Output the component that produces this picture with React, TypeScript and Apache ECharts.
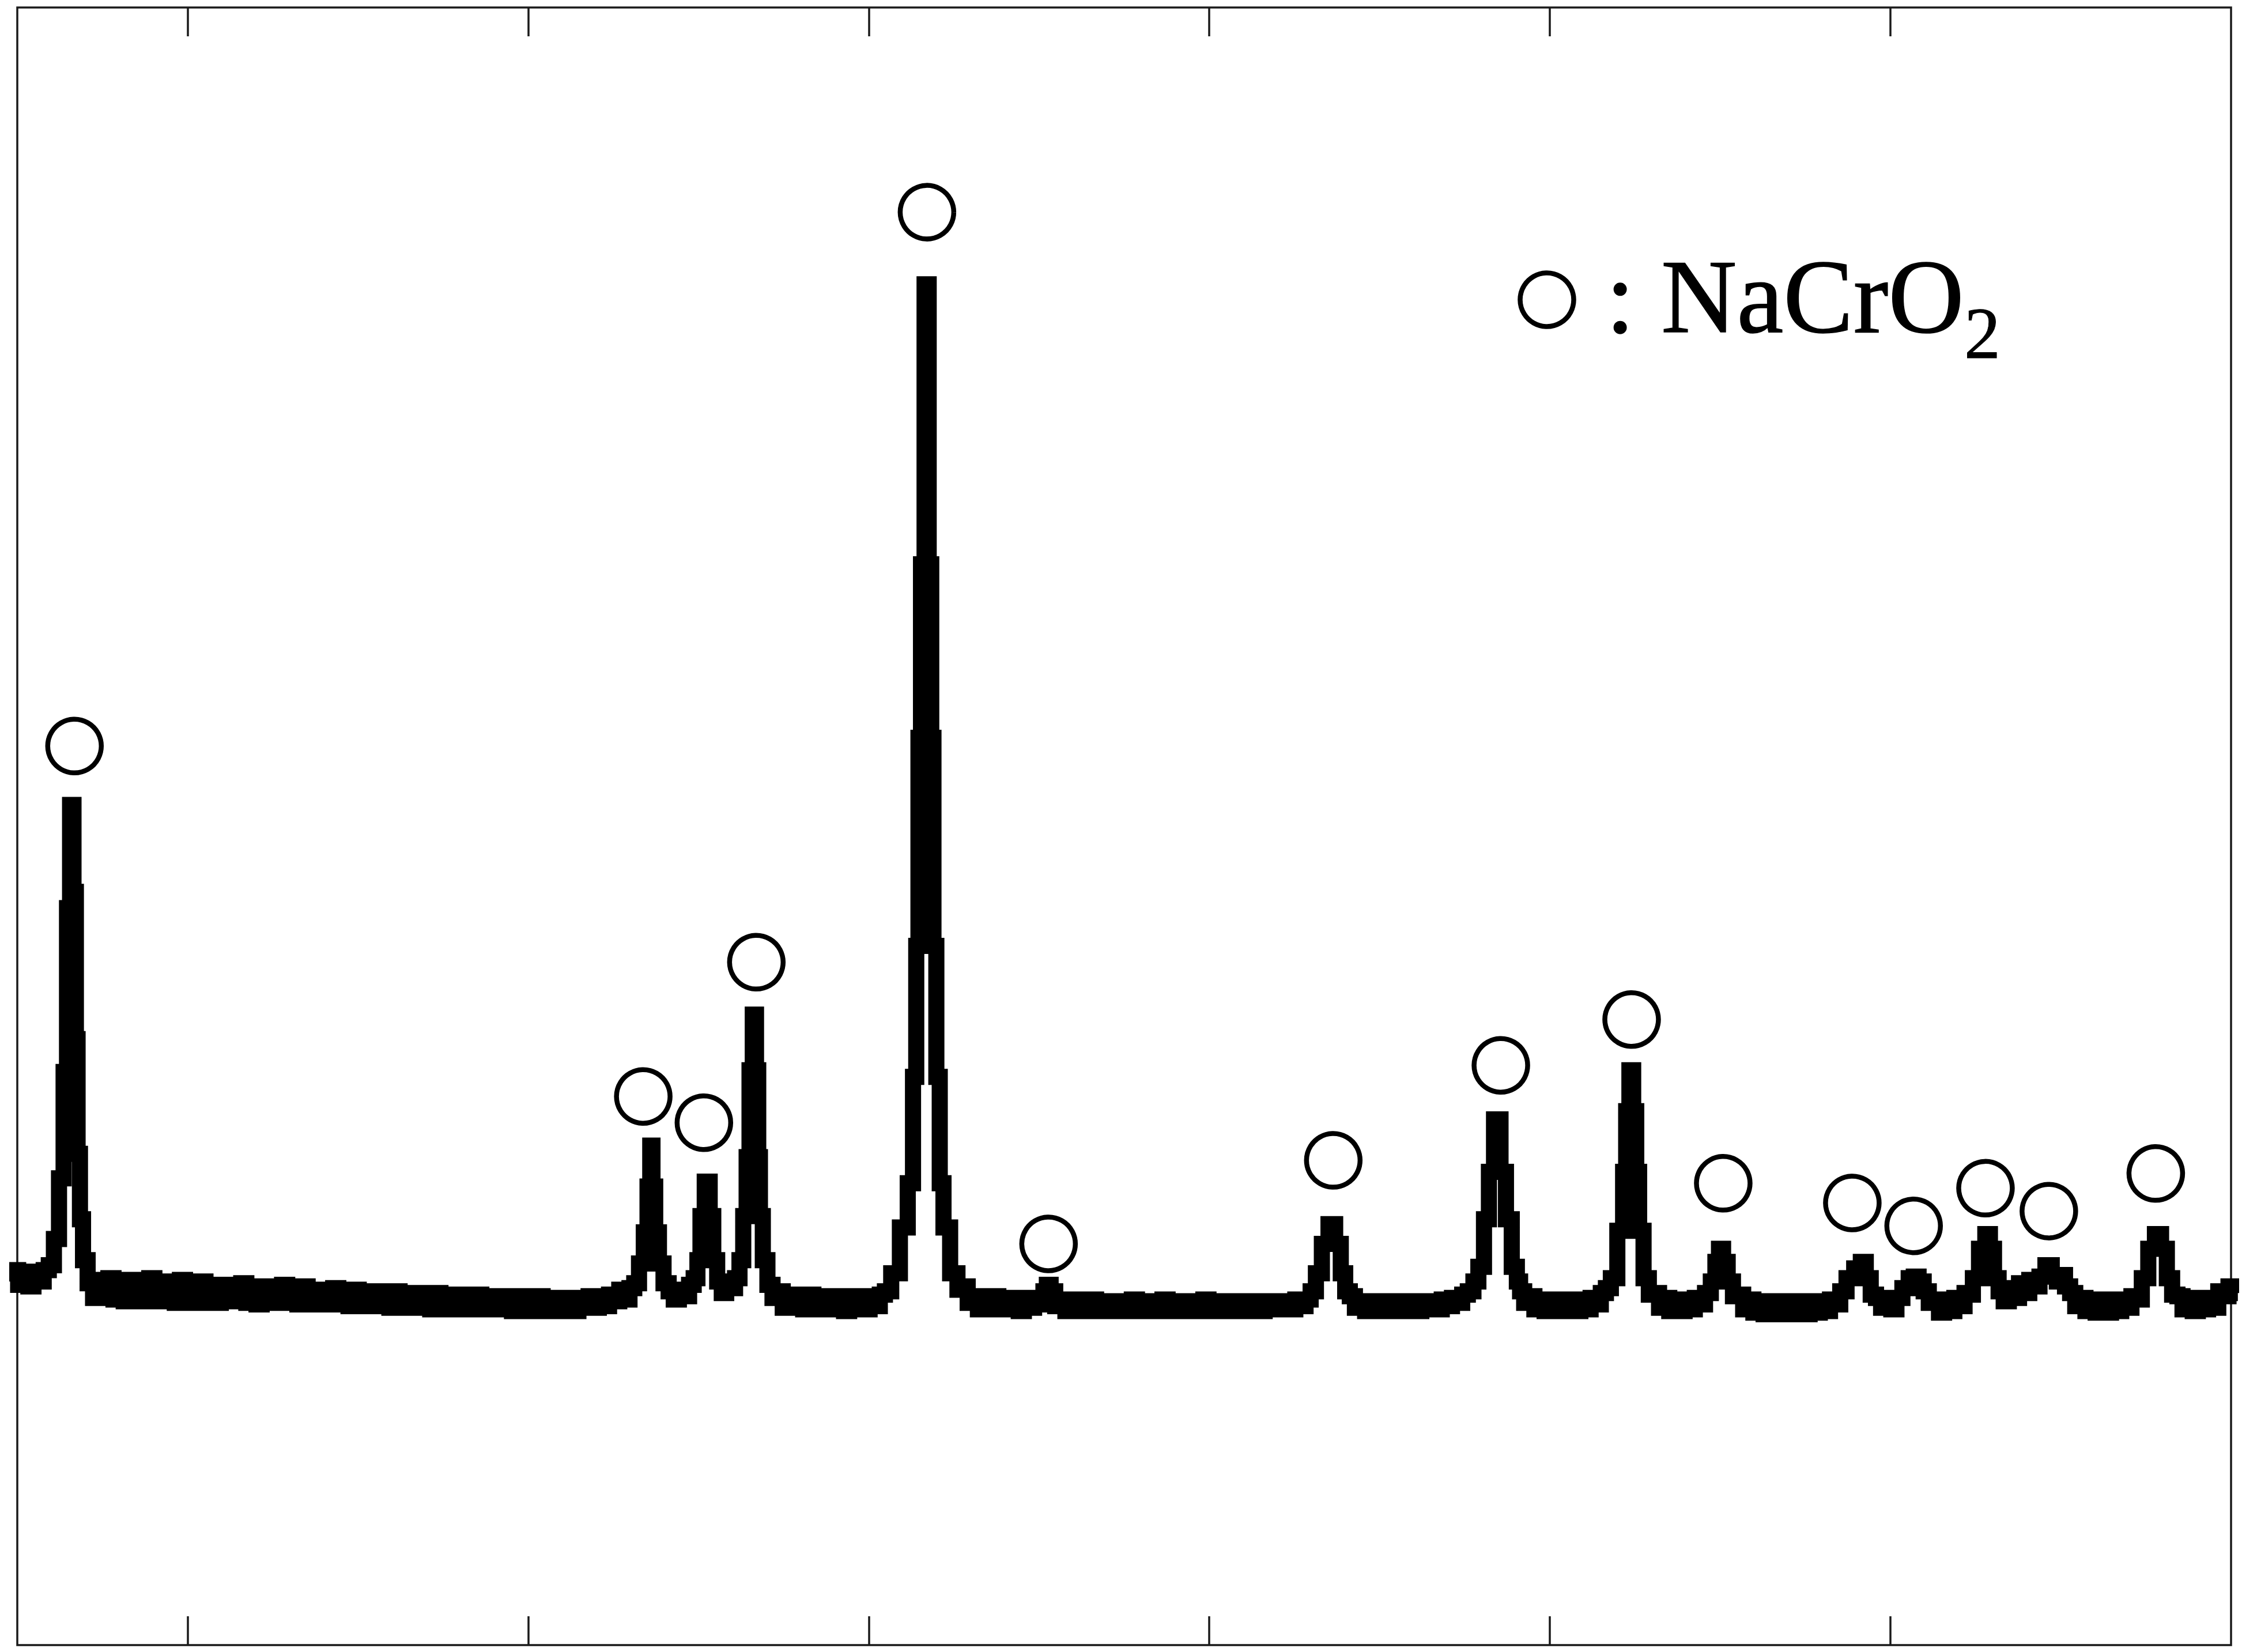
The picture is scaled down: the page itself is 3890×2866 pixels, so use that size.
import { useEffect, useRef } from "react";
import * as echarts from "echarts";

// XRD pattern: [2θ (deg), relative intensity (% of plot height)]
const pattern: [number, number][] = [
  [14.8, 22.2], [14.95, 22.9], [15.1, 22.0], [15.25, 22.8], [15.4, 21.9], [15.55, 22.7], [15.7, 22.2],
  [15.85, 22.9], [16.0, 23.2], [16.15, 24.8], [16.3, 28.5], [16.42, 35.0], [16.5, 45.0], [16.6, 51.3],
  [16.7, 46.0], [16.74, 37.0], [16.8, 30.0], [16.88, 26.0], [16.98, 23.5], [17.15, 22.1],
  [17.3, 21.2], [17.45, 22.3], [17.6, 21.2], [17.75, 22.4], [17.9, 21.1], [18.05, 22.2], [18.2, 21.0],
  [18.35, 22.3], [18.5, 21.2], [18.65, 22.1], [18.8, 21.0], [18.95, 22.4], [19.1, 21.1], [19.25, 22.2],
  [19.4, 21.0], [19.55, 22.0], [19.7, 20.9], [19.85, 22.3], [20.0, 21.1], [20.15, 22.1], [20.3, 20.9],
  [20.45, 22.2], [20.6, 21.0], [20.75, 21.9], [20.9, 20.9], [21.05, 22.0], [21.2, 21.0], [21.35, 21.9],
  [21.5, 21.1], [21.65, 22.1], [21.8, 20.9], [21.95, 21.8], [22.1, 20.8], [22.25, 21.9], [22.4, 21.0],
  [22.55, 21.8], [22.7, 20.9], [22.85, 22.0], [23.0, 20.9], [23.15, 21.7], [23.3, 20.8], [23.45, 21.9],
  [23.6, 20.9], [23.75, 21.6], [23.9, 20.8], [24.05, 21.7], [24.2, 20.9], [24.35, 21.8], [24.5, 20.8],
  [24.65, 21.6], [24.8, 20.7], [24.95, 21.7], [25.1, 20.8], [25.25, 21.5], [25.4, 20.7], [25.55, 21.6],
  [25.7, 20.8], [25.85, 21.5], [26.0, 20.6], [26.15, 21.6], [26.3, 20.7], [26.45, 21.4], [26.6, 20.6],
  [26.75, 21.5], [26.9, 20.7], [27.05, 21.4], [27.2, 20.5], [27.35, 21.5], [27.5, 20.6], [27.65, 21.3],
  [27.8, 20.5], [27.95, 21.4], [28.1, 20.6], [28.25, 21.3], [28.4, 20.5], [28.55, 21.4], [28.7, 20.6],
  [28.85, 21.2], [29.0, 20.5], [29.15, 21.3], [29.3, 20.6], [29.45, 21.2], [29.6, 20.4], [29.75, 21.3],
  [29.9, 20.5], [30.05, 21.2], [30.2, 20.4], [30.35, 21.3], [30.5, 20.5], [30.65, 21.1], [30.8, 20.4],
  [30.95, 21.2], [31.1, 20.5], [31.25, 21.1], [31.4, 20.4], [31.55, 21.2], [31.7, 20.6], [31.85, 21.3],
  [32.0, 20.6], [32.15, 21.2], [32.3, 20.7], [32.45, 21.4], [32.6, 21.0], [32.75, 21.7], [32.9, 21.1],
  [33.05, 21.8], [33.18, 22.1],
  [33.33, 23.3], [33.46, 25.2], [33.55, 28.0], [33.62, 30.5], [33.68, 28.0], [33.78, 25.2], [33.9, 23.3],
  [34.05, 22.1], [34.2, 21.6], [34.35, 21.1], [34.5, 21.7], [34.65, 21.3], [34.8, 22.0], [34.92, 22.4],
  [35.02, 23.5], [35.1, 26.2], [35.27, 28.3], [35.39, 26.2], [35.48, 23.5], [35.62, 22.2], [35.75, 21.5],
  [35.88, 22.1], [36.0, 21.8], [36.15, 22.4], [36.26, 23.5], [36.37, 26.2], [36.46, 29.8], [36.54, 35.1],
  [36.65, 38.5], [36.73, 35.1], [36.78, 29.8], [36.83, 26.2], [36.95, 23.5], [37.1, 22.0],
  [37.25, 21.2], [37.4, 21.6], [37.55, 20.6], [37.7, 21.4], [37.85, 20.6], [38.0, 21.3], [38.15, 20.5],
  [38.3, 21.4], [38.45, 20.6], [38.6, 21.2], [38.75, 20.5], [38.9, 21.3], [39.05, 20.5], [39.2, 21.2],
  [39.35, 20.4], [39.5, 21.3], [39.65, 20.6], [39.8, 21.2], [39.95, 20.5], [40.1, 21.3], [40.25, 20.7],
  [40.4, 21.4], [40.55, 21.6], [40.77, 22.7],
  [41.06, 25.5], [41.23, 28.2], [41.37, 34.7], [41.42, 42.7], [41.5, 55.4], [41.57, 66.0], [41.71, 83.1],
  [41.81, 66.0], [41.86, 55.4], [41.94, 42.7], [42.03, 34.7], [42.14, 28.2], [42.25, 25.5], [42.53, 22.7],
  [42.68, 21.7], [42.83, 21.9], [42.98, 20.9], [43.13, 21.3], [43.28, 20.5], [43.43, 21.2], [43.58, 20.5],
  [43.73, 21.3], [43.88, 20.6], [44.03, 21.1], [44.18, 20.5], [44.33, 21.2], [44.48, 20.4], [44.63, 21.2],
  [44.78, 20.6], [44.93, 21.1], [45.08, 20.8], [45.18, 21.6], [45.28, 22.0], [45.4, 21.6], [45.55, 20.7],
  [45.7, 21.1], [45.85, 20.4], [46.0, 21.1], [46.15, 20.4], [46.3, 21.0], [46.45, 20.5], [46.6, 21.1],
  [46.75, 20.4], [46.9, 21.0], [47.05, 20.5], [47.2, 20.9], [47.35, 20.4], [47.5, 21.0], [47.65, 20.5],
  [47.8, 21.1], [47.95, 20.4], [48.1, 20.9], [48.25, 20.5], [48.4, 21.0], [48.55, 20.4], [48.7, 21.1],
  [48.85, 20.5], [49.0, 20.9], [49.15, 20.4], [49.3, 21.0], [49.45, 20.5], [49.6, 20.9], [49.75, 20.4],
  [49.9, 21.1], [50.05, 20.5], [50.2, 20.9], [50.35, 20.4], [50.5, 21.0], [50.65, 20.5], [50.8, 21.0],
  [50.95, 20.4], [51.1, 20.9], [51.25, 20.5], [51.4, 21.0], [51.55, 20.4], [51.7, 20.9], [51.85, 20.5],
  [52.0, 21.0], [52.15, 20.5], [52.3, 20.9], [52.45, 20.5], [52.6, 21.1], [52.75, 20.7], [52.9, 21.1],
  [53.05, 21.6], [53.21, 22.7], [53.4, 24.5], [53.6, 25.7], [53.79, 24.5], [53.93, 22.7], [54.05, 21.6],
  [54.2, 21.3], [54.35, 20.6], [54.5, 21.0], [54.65, 20.4], [54.8, 21.0], [54.95, 20.4], [55.1, 20.9],
  [55.25, 20.4], [55.4, 21.0], [55.55, 20.4], [55.7, 20.9], [55.85, 20.4], [56.0, 21.0], [56.15, 20.4],
  [56.3, 20.9], [56.45, 20.5], [56.6, 21.0], [56.75, 20.5], [56.9, 21.1], [57.05, 20.7], [57.2, 21.2],
  [57.35, 20.9], [57.5, 21.4],
  [57.68, 21.6], [57.83, 22.2], [57.97, 23.1], [58.16, 26.0], [58.26, 28.9], [58.46, 32.1], [58.64, 28.9],
  [58.78, 26.0], [58.98, 23.1], [59.08, 22.2], [59.17, 21.6],
  [59.32, 20.9], [59.47, 21.3], [59.62, 20.5], [59.77, 21.1], [59.92, 20.4], [60.07, 21.0], [60.22, 20.4],
  [60.37, 21.1], [60.52, 20.4], [60.67, 21.0], [60.82, 20.4], [60.97, 21.1], [61.12, 20.5], [61.27, 21.2],
  [61.42, 20.8], [61.57, 21.5],
  [61.72, 21.8], [61.86, 22.4], [62.1, 25.3], [62.2, 28.9], [62.28, 32.6], [62.39, 35.1], [62.5, 32.6],
  [62.57, 28.9], [62.67, 25.3], [62.83, 22.4],
  [62.98, 21.4], [63.13, 21.5], [63.28, 20.6], [63.43, 21.2], [63.58, 20.4], [63.73, 21.1], [63.88, 20.4],
  [64.03, 21.1], [64.18, 20.5], [64.33, 21.2], [64.48, 20.8], [64.63, 21.5],
  [64.82, 22.2], [64.9, 23.4], [65.03, 24.2], [65.14, 23.4], [65.3, 22.2],
  [65.45, 21.3], [65.6, 21.4], [65.75, 20.5], [65.9, 21.1], [66.05, 20.3], [66.2, 21.0], [66.35, 20.2],
  [66.5, 20.9], [66.65, 20.3], [66.8, 21.0], [66.95, 20.2], [67.1, 20.9], [67.25, 20.3], [67.4, 21.0],
  [67.55, 20.2], [67.7, 20.9], [67.85, 20.3], [68.0, 21.0], [68.15, 20.4], [68.3, 21.1], [68.45, 20.8],
  [68.6, 21.6],
  [68.82, 22.4], [69.05, 23.0], [69.21, 23.4], [69.34, 22.4], [69.5, 21.4], [69.65, 21.2], [69.8, 20.6],
  [69.95, 21.2], [70.1, 20.5], [70.25, 21.2], [70.45, 21.8], [70.62, 22.4], [70.75, 22.5], [70.9, 22.2],
  [71.05, 21.6], [71.2, 20.9], [71.35, 20.9], [71.5, 20.3], [71.65, 21.1], [71.8, 20.4], [71.95, 21.2],
  [72.1, 20.7], [72.25, 21.5], [72.35, 21.4],
  [72.49, 22.4], [72.71, 24.2], [72.86, 25.1], [72.98, 24.2], [73.1, 22.4], [73.25, 21.6], [73.4, 21.0],
  [73.55, 21.8], [73.7, 21.2], [73.85, 22.1], [74.0, 21.5], [74.15, 22.3], [74.3, 21.9], [74.45, 22.5],
  [74.65, 23.2], [74.82, 22.6], [74.95, 22.2], [75.05, 22.6], [75.2, 21.9], [75.35, 21.5], [75.5, 20.7],
  [75.65, 21.2], [75.8, 20.4], [75.95, 21.1], [76.1, 20.3], [76.25, 21.0], [76.4, 20.3], [76.55, 21.1],
  [76.7, 20.4], [76.85, 21.1], [77.0, 20.6], [77.15, 21.3], [77.3, 21.1],
  [77.46, 22.4], [77.68, 24.2], [77.85, 25.1], [78.04, 24.2], [78.19, 22.4], [78.35, 21.4], [78.5, 21.3],
  [78.65, 20.5], [78.8, 21.2], [78.95, 20.4], [79.1, 21.2], [79.25, 20.5], [79.4, 21.1], [79.55, 20.6],
  [79.7, 21.6], [79.85, 21.3], [80.0, 21.9], [80.2, 21.5],
];

// NaCrO2 reflection markers (2θ, marker height)
const markerTwoTheta = [16.68, 33.38, 35.16, 36.7, 41.71, 45.28, 53.64, 58.56, 62.4, 65.09, 68.88, 70.68, 72.79, 74.65, 77.79];
const markerHeight = [54.9, 33.5, 31.9, 41.7, 87.5, 24.5, 29.6, 35.4, 38.2, 28.2, 27.0, 25.6, 27.9, 26.5, 28.8];

const xTicks = [20, 30, 40, 50, 60, 70];
const legendText = ": NaCrO";
const legendSub = "2";

export default function App() {
  const ref = useRef<HTMLDivElement>(null);
  useEffect(() => {
    if (!ref.current) return;
    const chart = echarts.init(ref.current, undefined, { renderer: "svg" });
    const frameColor = "#1a1a1a";
    const tickAxis = (position: "top" | "bottom") => ({
      type: "value",
      min: 15,
      max: 80,
      position,
      axisLine: { show: false },
      axisLabel: { show: false },
      splitLine: { show: false },
      axisTick: {
        show: true,
        inside: true,
        length: 50,
        customValues: xTicks,
        lineStyle: { color: frameColor, width: 3.5 },
      },
    });
    chart.setOption({
      animation: false,
      backgroundColor: "#ffffff",
      grid: {
        left: 30,
        right: 19,
        top: 13,
        bottom: 12,
        show: true,
        borderColor: frameColor,
        borderWidth: 3.5,
        backgroundColor: "transparent",
      },
      xAxis: [tickAxis("bottom"), tickAxis("top")],
      yAxis: { type: "value", min: 0, max: 100, show: false },
      series: [
        {
          type: "line",
          xAxisIndex: 0,
          data: pattern,
          step: "middle",
          showSymbol: false,
          symbol: "none",
          clip: false,
          lineStyle: { color: "#000", width: 28, join: "miter", miterLimit: 4, cap: "butt" },
          z: 2,
        },
        {
          type: "scatter",
          xAxisIndex: 0,
          data: markerTwoTheta.map((t, i) => [t, markerHeight[i]]),
          symbol: "circle",
          symbolSize: 93,
          clip: false,
          itemStyle: {
            color: "rgba(255,255,255,0)",
            borderColor: "#000",
            borderWidth: 8.5,
            opacity: 1,
          },
          z: 3,
        },
      ],
      graphic: [
        {
          type: "circle",
          shape: { cx: 2684, cy: 520, r: 46.5 },
          style: { fill: "rgba(255,255,255,0)", stroke: "#000", lineWidth: 8.5 },
        },
        {
          type: "text",
          style: {
            text: legendText,
            x: 2786,
            y: 514,
            font: '182px "Liberation Serif", "Times New Roman", serif',
            fill: "#000",
            stroke: "#000",
            lineWidth: 1.5,
            textAlign: "left",
            textVerticalAlign: "middle",
            align: "left",
            verticalAlign: "middle",
          },
        },
        {
          type: "text",
          style: {
            text: legendSub,
            x: 3408,
            y: 578,
            font: '126px "Liberation Serif", "Times New Roman", serif',
            fill: "#000",
            stroke: "#000",
            lineWidth: 1,
            textAlign: "left",
            textVerticalAlign: "middle",
            align: "left",
            verticalAlign: "middle",
          },
        },
      ],
    });
    return () => chart.dispose();
  }, []);
  return (
    <div
      ref={ref}
      style={{ position: "fixed", left: 0, top: 0, width: 3890, height: 2866, background: "#fff" }}
    />
  );
}
